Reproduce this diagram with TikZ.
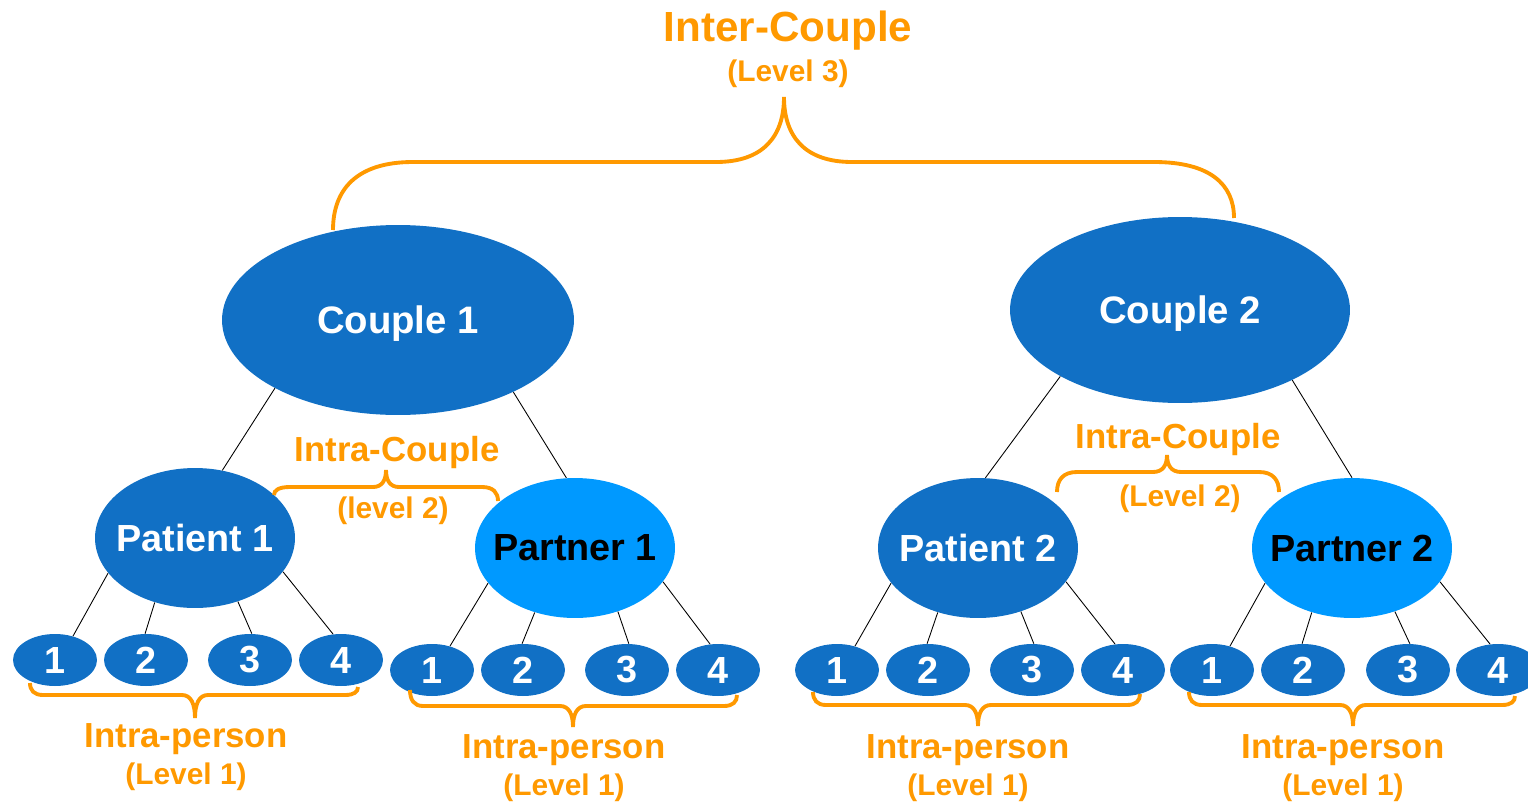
\documentclass[tikz,border=0pt]{standalone}
\usepackage{fontspec}
\setmainfont{Liberation Sans}
\usetikzlibrary{shapes.geometric}
\definecolor{dblue}{RGB}{17,112,197}
\definecolor{lblue}{RGB}{0,153,255}
\definecolor{myorange}{RGB}{255,153,0}
% xl, yl, xr, yr, xt, yt, h, w, w2
\newcommand\mybrace[9]{%
\draw[bracestyle] (#1,#2) .. controls (#1,{#2+0.6*(#7-#2)}) and ({#1+0.3*#8},#7) .. ({#1+#8},#7)
 -- ({#5-#9},#7) .. controls ({#5-0.3*#9},#7) and (#5,{#7+0.4*(#6-#7)}) .. (#5,#6)
 .. controls (#5,{#7+0.4*(#6-#7)}) and ({#5+0.3*#9},#7) .. ({#5+#9},#7)
 -- ({#3-#8},#7) .. controls ({#3-0.3*#8},#7) and (#3,{#4+0.6*(#7-#4)}) .. (#3,#4);}
\begin{document}
\begin{tikzpicture}[x=0.02cm,y=-0.02cm,
  couple/.style={ellipse, fill=dblue, text=white, inner sep=0pt, text depth=0pt,
    font=\bfseries\fontsize{21.8}{24}\selectfont},
  person/.style={ellipse, inner ysep=0pt, inner xsep=-10pt,
    minimum width=4cm, minimum height=2.8cm, font=\bfseries\fontsize{21.5}{24}\selectfont},
  patient/.style={person, fill=dblue, text=white},
  partner/.style={person, fill=lblue, text=black},
  leaf/.style={ellipse, fill=dblue, text=white, inner sep=0pt,
    minimum width=1.68cm, minimum height=1.04cm, font=\bfseries\fontsize{21.5}{24}\selectfont},
  bigl/.style={text=myorange, font=\bfseries\fontsize{24}{26}\selectfont},
  lbl/.style={text=myorange, font=\bfseries\fontsize{19.8}{22}\selectfont},
  sublbl/.style={text=myorange, font=\bfseries\fontsize{17}{19}\selectfont},
  link/.style={draw=black, line width=0.5pt},
  bracestyle/.style={draw=myorange, line width=2.2pt}]
\useasboundingbox (0,0) rectangle (1528,805);
\clip (0,0) rectangle (1528,805);

% main nodes
\node[couple, minimum width=7.04cm, minimum height=3.8cm] (k1) at (398,320) {Couple 1};
\node[couple, minimum width=6.8cm, minimum height=3.72cm] (k2) at (1180,310) {Couple 2};
\node[patient] (p1) at (195,538) {Patient 1};
\node[partner] (r1) at (575,548) {Partner 1};
\node[patient] (p2) at (978,548) {Patient 2};
\node[partner] (r2) at (1352,548) {Partner 2};

% leaves
\foreach \i/\x in {1/55,2/146,3/250,4/341} \node[leaf] (a\i) at (\x,660) {\i};
\foreach \i/\x in {1/432,2/523,3/627,4/718} \node[leaf] (b\i) at (\x,670) {\i};
\foreach \i/\x in {1/837,2/928,3/1032,4/1123} \node[leaf] (c\i) at (\x,670) {\i};
\foreach \i/\x in {1/1212,2/1303,3/1408,4/1498} \node[leaf] (d\i) at (\x,670) {\i};

% connectors
\draw[link] (k1.209) -- (p1.68);
\draw[link] (k1.328) -- (r1.97);
\draw[link] (k2.209) -- (p2.84);
\draw[link] (k2.328) -- (r2.90);
\foreach \p/\g in {p1/a, r1/b, p2/c, r2/d}{
  \draw[link] (\p.202) -- (\g1.53);
  \draw[link] (\p.238) -- (\g2.92);
  \draw[link] (\p.304) -- (\g3.86);
  \draw[link] (\p.339) -- (\g4.107);
}

% braces
\mybrace{333}{230}{1234}{218}{784}{97}{162}{80}{68}
\mybrace{274}{495}{498}{501}{386}{470}{487}{16}{13}
\mybrace{1057}{492}{1279}{492}{1167}{455}{472}{20}{14}
\mybrace{30}{683}{358}{687}{195}{718}{695}{13}{13}
\mybrace{410}{690}{737}{695}{573}{727}{706}{13}{13}
\mybrace{813}{692}{1140}{694}{978}{726}{705}{13}{13}
\mybrace{1189}{692}{1515}{696}{1353}{726}{705}{13}{13}

% labels
\node[bigl] (t3) at (788,31) {Inter-Couple};
\node[sublbl] (t3b) at (788,74) {(Level 3)};
\node[lbl] (t2a) at (397,452) {Intra-Couple};
\node[sublbl] (t2ab) at (393,511) {(level 2)};
\node[lbl] (t2b) at (1178,439) {Intra-Couple};
\node[sublbl] (t2bb) at (1180,499) {(Level 2)};
\foreach \n/\x/\y in {la/186/739, lb/564/750, lc/968/750, ld/1343/750}{
  \node[lbl] (\n) at (\x,\y) {Intra-person};
  \node[sublbl] (\n s) at (\x,{\y+38}) {(Level 1)};
}
\end{tikzpicture}
\end{document}
